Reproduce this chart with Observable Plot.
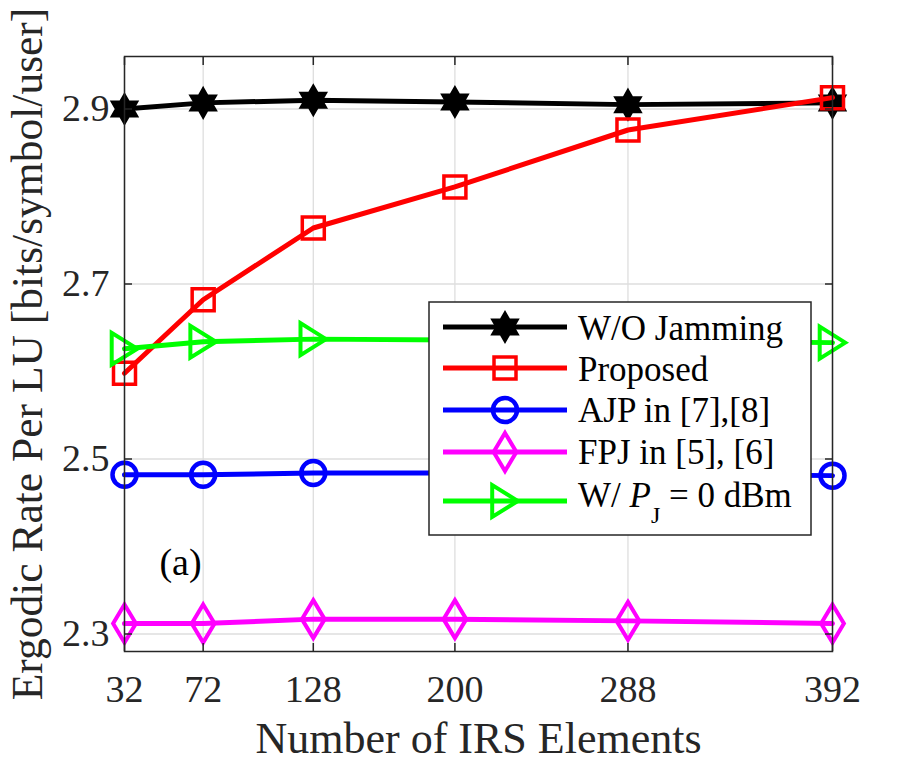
<!DOCTYPE html>
<html>
<head>
<meta charset="utf-8">
<script src="https://cdn.jsdelivr.net/npm/d3@7"></script>
<script src="https://cdn.jsdelivr.net/npm/@observablehq/plot@0.6"></script>
<style>
  html, body { margin: 0; padding: 0; background: #fff; }
  #chart { position: relative; width: 919px; height: 763px; }
</style>
</head>
<body>
<div id="chart"></div>
<script>
// ---- data ----
const irsElements = [32, 72, 128, 200, 288, 392];
const yTicks = [2.3, 2.5, 2.7, 2.9];
const woJamming = [2.900, 2.907, 2.910, 2.908, 2.905, 2.907];
const proposed  = [2.598, 2.682, 2.764, 2.811, 2.876, 2.913];
const ajp       = [2.482, 2.482, 2.484, 2.484, 2.483, 2.481];
const fpj       = [2.312, 2.312, 2.317, 2.317, 2.315, 2.312];
const pj0       = [2.626, 2.634, 2.637, 2.636, 2.635, 2.633];
const seriesNames = ["W/O Jamming", "Proposed", "AJP in [7],[8]", "FPJ in [5], [6]", "W/ P_J = 0 dBm"];
const seriesColors = ["#000000", "#ff0000", "#0000ff", "#ff00ff", "#00ff00"];

// ---- custom marker symbols (size = pi r^2) ----
const rad = s => Math.sqrt(s / Math.PI);
const hexagram = {draw(c, s) {
  const R = rad(s), r = R / Math.sqrt(3);
  for (let i = 0; i < 12; i++) {
    const a = -Math.PI / 2 + i * Math.PI / 6;
    const rr = i % 2 === 0 ? R : r;
    const px = rr * Math.cos(a), py = rr * Math.sin(a);
    if (i === 0) c.moveTo(px, py); else c.lineTo(px, py);
  }
  c.closePath();
}};
const squareSym = {draw(c, s) { const h = rad(s); c.rect(-h, -h, 2 * h, 2 * h); }};
const circleSym = {draw(c, s) { const r = rad(s); c.moveTo(r, 0); c.arc(0, 0, r, 0, 2 * Math.PI); }};
const diamondSym = {draw(c, s) { const h = rad(s), w = h * 0.6;
  c.moveTo(0, -h); c.lineTo(w, 0); c.lineTo(0, h); c.lineTo(-w, 0); c.closePath(); }};
const triRightSym = {draw(c, s) { const h = rad(s), w = h * 0.8;
  c.moveTo(w, 0); c.lineTo(-w, h); c.lineTo(-w, -h); c.closePath(); }};
const symbols = [hexagram, squareSym, circleSym, diamondSym, triRightSym];
const symbolR = [14, 11, 12, 19, 16];
const symbolStroke = [3, 3.5, 4.5, 4, 4];
const symbolFill = ["#000000", "none", "none", "none", "none"];

const allSeries = [woJamming, proposed, ajp, fpj, pj0];
const table = [];
allSeries.forEach((vals, si) => vals.forEach((v, i) => table.push({x: irsElements[i], y: v, s: si})));

const font = "Liberation Serif, Times New Roman, serif";
const ink = "#262626";

const marks = [
  Plot.gridX(irsElements, {stroke: "#dedede", strokeOpacity: 1, strokeWidth: 1.3}),
  Plot.gridY(yTicks, {stroke: "#dedede", strokeOpacity: 1, strokeWidth: 1.3}),
];
[0, 1, 2, 3, 4].forEach(si => {
  const d = table.filter(r => r.s === si);
  marks.push(Plot.line(d, {x: "x", y: "y", stroke: seriesColors[si], strokeWidth: 5}));
  marks.push(Plot.dot(d, {x: "x", y: "y", symbol: () => symbols[si], r: symbolR[si],
    stroke: seriesColors[si], strokeWidth: symbolStroke[si], fill: symbolFill[si]}));
});
marks.push(
  Plot.axisX(irsElements, {anchor: "bottom", tickSize: 0, tickPadding: 24, fontSize: 38, fill: ink, tickFormat: d => String(d), label: null}),
  Plot.axisY(yTicks, {anchor: "left", tickSize: 0, tickPadding: 15, fontSize: 38, fill: ink, tickFormat: d => d.toFixed(1), label: null}),
  Plot.axisX(irsElements, {anchor: "bottom", tickSize: -8, stroke: ink, strokeWidth: 1.5, tickFormat: () => "", label: null}),
  Plot.axisX(irsElements, {anchor: "top", tickSize: -8, stroke: ink, strokeWidth: 1.5, tickFormat: () => "", label: null}),
  Plot.axisY(yTicks, {anchor: "left", tickSize: -8, stroke: ink, strokeWidth: 1.5, tickFormat: () => "", label: null}),
  Plot.axisY(yTicks, {anchor: "right", tickSize: -8, stroke: ink, strokeWidth: 1.5, tickFormat: () => "", label: null}),
  Plot.text(["Number of IRS Elements"], {frameAnchor: "bottom", lineAnchor: "middle", dy: 87, fontSize: 44, fill: ink, textAnchor: "middle"}),
  Plot.text(["Ergodic Rate Per LU [bits/symbol/user]"], {frameAnchor: "left", lineAnchor: "middle", rotate: -90, dx: -96, fontSize: 43.5, fill: ink, textAnchor: "middle"}),
  Plot.text(["(a)"], {x: 60.5, y: 2.381, fontSize: 38, fill: "#000"}),
  Plot.frame({stroke: ink, strokeWidth: 1.5})
);

const plot = Plot.plot({
  width: 919, height: 763,
  marginLeft: 124, marginRight: 87, marginTop: 56, marginBottom: 112,
  style: {fontFamily: font, background: "#fff", overflow: "visible"},
  x: {domain: [32, 392], type: "linear"},
  y: {domain: [2.28, 2.96], type: "linear"},
  marks
});
document.getElementById("chart").appendChild(plot);

// ---- legend (drawn on top of the plot, inside the frame) ----
const svg = d3.select(plot);
const lg = svg.append("g").attr("font-family", font).attr("fill", "#000").attr("text-anchor", "start");
const box = {x: 429, y: 302, w: 382, h: 233};
lg.append("rect").attr("x", box.x).attr("y", box.y).attr("width", box.w).attr("height", box.h)
  .attr("fill", "#fff").attr("stroke", ink).attr("stroke-width", 1.5);
const rowY = [327, 368, 410, 452, 501];
const baseY = [340, 381, 422, 464, 507];
seriesNames.forEach((name, i) => {
  lg.append("line").attr("x1", 443).attr("x2", 567).attr("y1", rowY[i]).attr("y2", rowY[i])
    .attr("stroke", seriesColors[i]).attr("stroke-width", 5);
  const sz = Math.PI * symbolR[i] * symbolR[i];
  lg.append("path").attr("transform", `translate(505,${rowY[i]})`)
    .attr("d", d3.symbol(symbols[i], sz)())
    .attr("stroke", seriesColors[i]).attr("stroke-width", symbolStroke[i]).attr("fill", symbolFill[i]);
  const t = lg.append("text").attr("x", 578).attr("y", baseY[i]).attr("font-size", 35).attr("text-anchor", "start");
  if (name.includes("P_J")) {
    t.append("tspan").text("W/ ");
    t.append("tspan").attr("font-style", "italic").text("P");
    t.append("tspan").attr("font-size", 24).attr("dy", 16).text("J");
    t.append("tspan").attr("dy", -16).text(" = 0 dBm");
  } else {
    t.text(name);
  }
});
</script>
</body>
</html>
